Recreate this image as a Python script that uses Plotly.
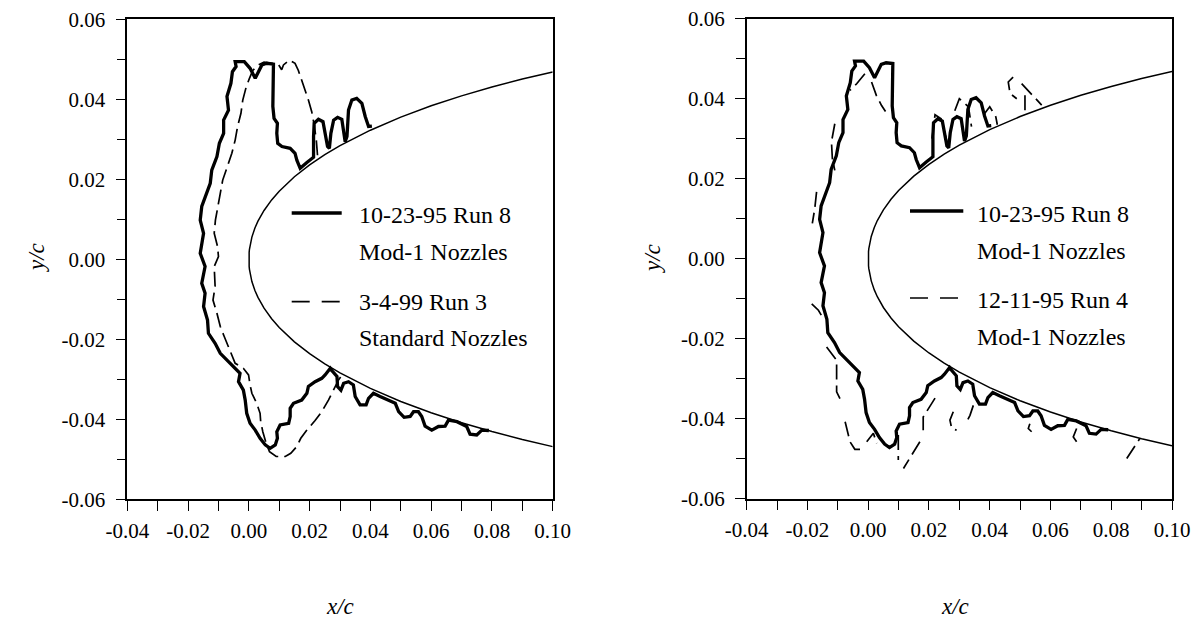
import plotly.graph_objects as go

# ---------------- data (x/c, y/c) ----------------
# NACA 0012 leading-edge region, upper surface (symmetric section)
airfoil_x = [0.0, 0.0001, 0.0002, 0.0005, 0.001, 0.002, 0.003, 0.005, 0.0075, 0.01, 0.0125,
             0.015, 0.02, 0.025, 0.03, 0.04, 0.05, 0.06, 0.07, 0.08, 0.09, 0.10]
airfoil_y = [0.0, 0.001774, 0.002504, 0.003946, 0.005558, 0.007816, 0.009529, 0.012213, 0.014848,
             0.017037, 0.018939, 0.020637, 0.023598, 0.026147, 0.028402, 0.032277, 0.035547,
             0.038375, 0.040862, 0.043073, 0.045050, 0.046828]

# 10-23-95 Run 8, Mod-1 nozzles (solid)
run8_x = [0.0405, 0.0394, 0.0383, 0.0372, 0.0355, 0.0339, 0.0328, 0.0323, 0.0317, 0.0312, 0.0306,
          0.0292, 0.0279, 0.0270, 0.0265, 0.0259, 0.0251, 0.0244, 0.0229, 0.0215, 0.0213, 0.0213,
          0.0191, 0.0169,
          0.0158, 0.0152, 0.0136, 0.0109, 0.0095, 0.0092, 0.0094, 0.0083, 0.0079, 0.0081, 0.0083,
          0.0081, 0.0059, 0.0043, 0.0021, 0.0004, -0.0015, -0.0045, -0.0042, -0.0054, -0.0059,
          -0.0072, -0.0067, -0.0083, -0.0083, -0.0097, -0.0105, -0.0122, -0.0127, -0.0140, -0.0155,
          -0.0160, -0.0149, -0.0160, -0.0144, -0.0155, -0.0144, -0.0149, -0.0136, -0.0133, -0.0111,
          -0.0094, -0.0072, -0.0050, -0.0029, -0.0034, -0.0018, -0.0012, -0.0007, 0.0004, 0.0021,
          0.0037, 0.0054, 0.0070, 0.0087, 0.0094, 0.0092, 0.0103, 0.0131, 0.0136, 0.0136, 0.0147,
          0.0174, 0.0191, 0.0196, 0.0218, 0.0240, 0.0251, 0.0268,
          0.0273, 0.0290, 0.0292, 0.0303, 0.0312, 0.0328, 0.0344, 0.0350, 0.0366, 0.0386, 0.0394,
          0.0410, 0.0432, 0.0460, 0.0482, 0.0493, 0.0511, 0.0531, 0.0542, 0.0558, 0.0569, 0.0580,
          0.0602, 0.0624, 0.0646, 0.0657, 0.0685, 0.0717, 0.0728, 0.0750, 0.0767, 0.0790]
run8_y = [0.0333, 0.0332, 0.0357, 0.0390, 0.04025, 0.0398, 0.0373, 0.0307, 0.0294, 0.0323, 0.0350,
          0.0355, 0.0348, 0.0315, 0.02775, 0.0282, 0.0315, 0.0344, 0.0350, 0.0340, 0.0307, 0.0255,
          0.0242, 0.02275,
          0.0248, 0.0265, 0.02775, 0.0282, 0.0290, 0.0315, 0.0340, 0.03525, 0.0382, 0.0432, 0.0482,
          0.0488, 0.0490, 0.0486, 0.04525, 0.04775, 0.0494, 0.0494, 0.0482, 0.0469, 0.0440,
          0.0407, 0.0373, 0.0348, 0.0315, 0.0290, 0.0257, 0.0223, 0.0190, 0.0165, 0.0132,
          0.0098, 0.0065, 0.0015, -0.0018, -0.0060, -0.0085, -0.0118, -0.0152, -0.0185, -0.0210,
          -0.0235, -0.0252, -0.0268, -0.0285, -0.0306, -0.0327, -0.0352, -0.0385, -0.0410, -0.0427,
          -0.04475, -0.0464, -0.04725, -0.0464, -0.04475, -0.0431, -0.0414, -0.0410, -0.0393, -0.03725, -0.0360,
          -0.0352, -0.0335, -0.0318, -0.0306, -0.02975, -0.0289, -0.02725,
          -0.0278, -0.0293, -0.0318, -0.0327, -0.0310, -0.0306, -0.0314, -0.0343, -0.0364, -0.0364, -0.03475,
          -0.0335, -0.0343, -0.0352, -0.0360, -0.0381, -0.0395, -0.0393, -0.0381, -0.0381, -0.0393, -0.0417,
          -0.0427, -0.0418, -0.0417, -0.0402, -0.0406, -0.0418, -0.0437, -0.0439, -0.0427, -0.0428]

# 3-4-99 Run 3, standard nozzles (dashed, left panel)
run3_x = [0.0226, 0.0222, 0.0215, 0.0207, 0.0196, 0.0185, 0.0174, 0.0163, 0.0152, 0.0134, 0.0114,
          0.0108, 0.0100, 0.0098, 0.0076, 0.0050, 0.0029, 0.0013, 0.0002, -0.0009, -0.0020, -0.0026,
          -0.0037, -0.0045, -0.0056, -0.0070, -0.0086, -0.0094, -0.0103, -0.0110, -0.0114, -0.0103,
          -0.0100, -0.0114, -0.0111, -0.0118, -0.0105, -0.0094, -0.0081, -0.0067, -0.0056, -0.0045,
          -0.0018, -0.0001, 0.0004, 0.0010, 0.0026, 0.0037, 0.0039, 0.0046, 0.0057, 0.0068, 0.0090,
          0.0120, 0.0138, 0.0158, 0.0171, 0.0191, 0.0218, 0.0240, 0.0262, 0.0281, 0.0295, 0.0309]
run3_y = [0.0260, 0.0298, 0.0336, 0.0369, 0.0398, 0.0423, 0.0448, 0.0472, 0.0490, 0.0498, 0.0486,
          0.0474, 0.0484, 0.0486, 0.0490, 0.0493, 0.0485, 0.0472, 0.04525, 0.0430, 0.0398, 0.0365,
          0.0332, 0.0298, 0.0265, 0.0232, 0.0198, 0.0165, 0.0132, 0.0098, 0.0065, 0.0032,
          0.0007, -0.0018, -0.0068, -0.0102, -0.0135, -0.0168, -0.0193, -0.0218, -0.0239, -0.0260,
          -0.02725, -0.0289, -0.0314, -0.0335, -0.0360, -0.0385, -0.0406, -0.0431, -0.0460, -0.0481, -0.0493,
          -0.0493, -0.0485, -0.0468, -0.04475, -0.0427, -0.0403, -0.0381, -0.0352, -0.03225, -0.0302, -0.0287]

# 12-11-95 Run 4, Mod-1 nozzles (dashed fragments, right panel; None separates strokes)
run4_x = [-0.0011, -0.0038, -0.0060, None,
          0.0011, 0.0027, 0.0044, 0.0057, None,
          -0.0110, -0.0121, -0.0118, -0.0110, None,
          -0.0170, -0.0176, -0.0184, None,
          -0.0186, -0.0164, -0.0148, None,
          -0.0137, -0.0104, -0.0104, -0.0093, None,
          -0.0076, -0.0060, -0.0044, -0.0027, None,
          -0.0005, 0.0017, 0.0028, None,
          0.0099, 0.0099, None,
          0.0170, 0.0116, None,
          0.0220, 0.0181, 0.0181, None,
          0.0280, 0.0269, 0.0275, 0.0291, None,
          0.0346, 0.0335, 0.0324, None,
          0.0532, 0.0527, 0.0538, None,
          0.0686, 0.0675, 0.0686, None,
          0.0851, 0.0894, None,
          0.0477, 0.0461, 0.0467, 0.0489, None,
          0.0505, 0.0571, None,
          0.0516, 0.0516, None,
          0.0210, 0.0220, 0.0240, 0.0260, None,
          0.0285, 0.0300, 0.0330, 0.0340, None,
          0.0380, 0.0400, 0.0420, 0.0425]
run4_y = [0.04625, 0.04375, 0.0421, None,
          0.0442, 0.0408, 0.0383, 0.0368, None,
          0.03375, 0.0292, 0.0250, 0.0221, None,
          0.0167, 0.0125, 0.0088, None,
          -0.0113, -0.0129, -0.0150, None,
          -0.0221, -0.0254, -0.0333, -0.0350, None,
          -0.0408, -0.0458, -0.0477, -0.0477, None,
          -0.0458, -0.0437, -0.0462, None,
          -0.0441, -0.0504, None,
          -0.0458, -0.0525, None,
          -0.0349, -0.0396, -0.0429, None,
          -0.0383, -0.0404, -0.0425, -0.0429, None,
          -0.0367, -0.0392, -0.0408, None,
          -0.0413, -0.0425, -0.0433, None,
          -0.0425, -0.0446, -0.0458, None,
          -0.0500, -0.0450, None,
          0.0454, 0.0442, 0.0413, 0.0400, None,
          0.0438, 0.0384, None,
          0.0409, 0.0367, None,
          0.0300, 0.0360, 0.0350, 0.0290, None,
          0.0370, 0.0400, 0.0380, 0.0330, None,
          0.0360, 0.0380, 0.0355, 0.0335]

x_tickvals = [-0.04, -0.02, 0.00, 0.02, 0.04, 0.06, 0.08, 0.10]
x_ticktext = ["-0.04", "-0.02", "0.00", "0.02", "0.04", "0.06", "0.08", "0.10"]
x_minor = [-0.03, -0.01, 0.01, 0.03, 0.05, 0.07, 0.09]
y_tickvals = [-0.06, -0.04, -0.02, 0.00, 0.02, 0.04, 0.06]
y_ticktext = ["-0.06", "-0.04", "-0.02", "0.00", "0.02", "0.04", "0.06"]
y_minor = [-0.05, -0.03, -0.01, 0.01, 0.03, 0.05]

legend_left = [("10-23-95 Run 8", "Mod-1 Nozzles"), ("3-4-99 Run 3", "Standard Nozzles")]
legend_right = [("10-23-95 Run 8", "Mod-1 Nozzles"), ("12-11-95 Run 4", "Mod-1 Nozzles")]

# ---------------- figure ----------------
SERIF = "Liberation Serif, Times New Roman, Times, serif"
DASH = "15px,6px"

af_x = list(reversed(airfoil_x)) + airfoil_x[1:]
af_y = list(reversed(airfoil_y)) + [-v for v in airfoil_y[1:]]

fig = go.Figure()
for xa, ya, dx, dy in [("x", "y", run3_x, run3_y), ("x2", "y2", run4_x, run4_y)]:
    fig.add_trace(go.Scatter(x=af_x, y=af_y, mode="lines", xaxis=xa, yaxis=ya,
                             line=dict(color="black", width=1.5), showlegend=False, hoverinfo="skip"))
    fig.add_trace(go.Scatter(x=dx, y=dy, mode="lines", xaxis=xa, yaxis=ya, connectgaps=False,
                             line=dict(color="black", width=1.7, dash=DASH), showlegend=False))
    fig.add_trace(go.Scatter(x=run8_x, y=run8_y, mode="lines", xaxis=xa, yaxis=ya,
                             line=dict(color="black", width=3.3), showlegend=False))

# page body has an 8px default margin, so the figure is 8px smaller than the window
OFF = 8
W, H = 1202 - OFF, 628 - OFF


def px(x):
    return (x - OFF) / W


def py(y):
    return (H - (y - OFF)) / H


axis_common = dict(showline=True, linecolor="black", linewidth=1.5, mirror=True,
                   ticks="outside", ticklen=10, tickwidth=1.3, tickcolor="black",
                   showgrid=False, zeroline=False, automargin=False, ticklabeloverflow="allow",
                   tickfont=dict(family=SERIF, size=21, color="black"))
xa_common = dict(axis_common, range=[-0.04, 0.10], tickmode="array", tickvals=x_tickvals,
                 ticktext=x_ticktext, ticklabelstandoff=2,
                 minor=dict(tickmode="array", tickvals=x_minor, ticks="outside", ticklen=10,
                            tickwidth=1.3, tickcolor="black", showgrid=False))
ya_common = dict(axis_common, range=[-0.06, 0.06], tickmode="array", tickvals=y_tickvals,
                 ticktext=y_ticktext, ticklabelstandoff=6,
                 minor=dict(tickmode="array", tickvals=y_minor, ticks="outside", ticklen=9,
                            tickwidth=1.3, tickcolor="black", showgrid=False))

fig.update_layout(
    width=W, height=H, margin=dict(l=0, r=0, t=0, b=0, autoexpand=False),
    paper_bgcolor="white", plot_bgcolor="white", showlegend=False,
    font=dict(family=SERIF, color="black"),
    xaxis=dict(xa_common, domain=[px(127.3), px(552.7)], anchor="y"),
    yaxis=dict(ya_common, domain=[py(499.3), py(19.3)], anchor="x"),
    xaxis2=dict(xa_common, domain=[px(746.7), px(1172)], anchor="y2"),
    yaxis2=dict(ya_common, domain=[py(498.5), py(18.8)], anchor="x2"),
)

annots = []
shapes = []
for (x0, x1, xt, ys, texts) in [
    (291.7, 341.7, 356.7, [213, 215, 252, 301.7, 302, 338], legend_left),
    (910.0, 963.3, 975.0, [211, 214, 251, 298, 300, 337], legend_right),
]:
    shapes.append(dict(type="line", xref="paper", yref="paper", x0=px(x0), x1=px(x1),
                       y0=py(ys[0]), y1=py(ys[0]), line=dict(color="black", width=3.3)))
    shapes.append(dict(type="line", xref="paper", yref="paper", x0=px(x0), x1=px(x1),
                       y0=py(ys[3]), y1=py(ys[3]), line=dict(color="black", width=1.7, dash="18px,12px")))
    for yy, t in zip([ys[1], ys[2], ys[4], ys[5]], [texts[0][0], texts[0][1], texts[1][0], texts[1][1]]):
        annots.append(dict(x=px(xt), y=py(yy), xref="paper", yref="paper", text=t, showarrow=False,
                           xanchor="left", yanchor="middle",
                           font=dict(family=SERIF, size=24, color="black")))

for cx, cy in [(340, 606), (955, 606)]:
    annots.append(dict(x=px(cx), y=py(cy), xref="paper", yref="paper", text="<i>x/c</i>",
                       showarrow=False, xanchor="center", yanchor="middle",
                       font=dict(family=SERIF, size=23, color="black")))
for cx, cy in [(37, 258), (653, 258)]:
    annots.append(dict(x=px(cx), y=py(cy), xref="paper", yref="paper", text="<i>y/c</i>",
                       showarrow=False, xanchor="center", yanchor="middle", textangle=-90,
                       font=dict(family=SERIF, size=23, color="black")))

fig.update_layout(annotations=annots, shapes=shapes)
fig.write_html("out.html")
